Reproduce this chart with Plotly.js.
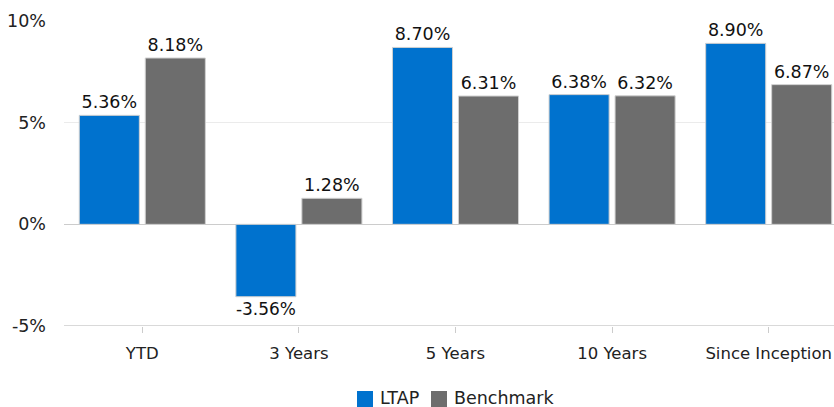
<!DOCTYPE html>
<html><head><meta charset="utf-8">
<script src="https://cdn.plot.ly/plotly-3.0.1.min.js"></script>
<style>html,body{margin:0;padding:0;background:#fff;overflow:hidden}#c{width:834px;height:407px;overflow:hidden}</style>
</head><body><div id="c"></div>
<script>
const categories = ["YTD", "3 Years", "5 Years", "10 Years", "Since Inception"];
const ltap = [5.36, -3.56, 8.70, 6.38, 8.90];
const benchmark = [8.18, 1.28, 6.31, 6.32, 6.87];
const seriesNames = ["LTAP", "Benchmark"];
const seriesColors = ["#0072CE", "#6D6D6D"];
const yTickVals = [-5, 0, 5, 10];
const yTickText = ["-5%", "0%", "5%", "10%"];

const fontFam = "Verdana, 'DejaVu Sans', sans-serif";
const FS = 17.5;
function trace(name, vals, color) {
  return {
    type: "bar", name: name, x: categories, y: vals,
    text: vals.map(v => v.toFixed(2) + "%"),
    textposition: "outside", cliponaxis: false,
    textfont: {family: fontFam, size: FS, color: "#111"},
    marker: {color: color, line: {color: "#d0d0d0", width: 1}},
    hoverinfo: "none", showlegend: false
  };
}
// plot area in pixels: x 64..847 (extends past right edge), y 21..326
const L = 64, W = 783, T = 21, H = 305;
const px = x => (x - L) / W;
const py = y => (T + H - y) / H;
const legendItems = [
  {sq: [357, 373], tx: 378},
  {sq: [431, 447], tx: 452}
];
const shapes = [{type: "line", xref: "paper", yref: "y", x0: 0, x1: 1, y0: -5, y1: -5,
                 line: {color: "#cccccc", width: 1.5}}];
const annotations = [];
legendItems.forEach((it, i) => {
  shapes.push({type: "rect", xref: "paper", yref: "paper", x0: px(it.sq[0]), x1: px(it.sq[1]),
               y0: py(407), y1: py(391), fillcolor: seriesColors[i], line: {width: 0}});
  annotations.push({xref: "paper", yref: "paper", x: px(it.tx), y: py(398), xanchor: "left",
                    yanchor: "middle", showarrow: false, text: seriesNames[i],
                    font: {family: fontFam, size: FS, color: "#222"}});
});
Plotly.newPlot("c", [trace(seriesNames[0], ltap, seriesColors[0]), trace(seriesNames[1], benchmark, seriesColors[1])], {
  width: L + W, height: 407,
  margin: {l: L, r: 0, t: T, b: 407 - T - H, autoexpand: false},
  barmode: "group", bargap: 0.157, bargroupgap: 0.09,
  font: {family: fontFam, size: FS, color: "#222"},
  paper_bgcolor: "#fff", plot_bgcolor: "#fff",
  xaxis: {showgrid: false, ticks: "outside", ticklen: 6, tickcolor: "#ccc", showline: false,
          tickfont: {size: 16.5, color: "#222"}, ticklabelstandoff: 6, automargin: false},
  yaxis: {range: [-5, 10], tickvals: yTickVals, ticktext: yTickText, showgrid: true,
          gridcolor: "#ebebeb", zeroline: true, zerolinecolor: "#cccccc", zerolinewidth: 1.5,
          showline: false, ticks: "", tickfont: {size: FS, color: "#222"}, ticklabelstandoff: 17,
          automargin: false},
  shapes: shapes, annotations: annotations,
  showlegend: false
}, {staticPlot: true});
</script></body></html>
